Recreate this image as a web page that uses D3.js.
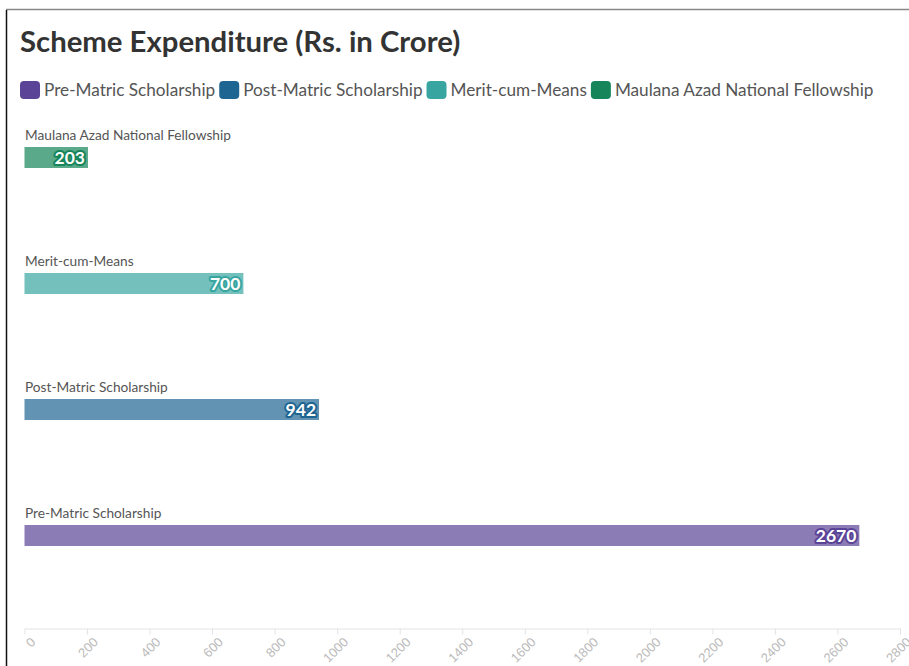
<!DOCTYPE html>
<html>
<head>
<meta charset="utf-8">
<script src="https://cdn.jsdelivr.net/npm/d3@7"></script>
<style>
  body { margin: 0; background: #fff; }
  svg { display: block; font-family: "Source Sans Pro", Lato, "Noto Sans", sans-serif; }
</style>
</head>
<body>
<svg></svg>
<script>
let width = 909
let height = 666

let categories = ['Pre-Matric Scholarship', 'Post-Matric Scholarship', 'Merit-cum-Means', 'Maulana Azad National Fellowship']
let values = [2670, 942, 700, 203]
let colors = ['#5b4497', '#1f6592', '#38a5a1', '#16855a']
let ticks = d3.range(0, 2801, 200)

let data = categories.map((c, i) => ({ name: c, value: values[i], color: colors[i] }))

let svg = d3.select('svg')
    .attr('width', width)
    .attr('height', height)

// frame
svg.append('line')
    .attr('x1', 6).attr('x2', width).attr('y1', 9.5).attr('y2', 9.5)
    .attr('stroke', '#888').attr('stroke-width', 1.5)
svg.append('line')
    .attr('x1', 6.5).attr('x2', 6.5).attr('y1', 10).attr('y2', height)
    .attr('stroke', '#111').attr('stroke-width', 1.5)

svg.append('text')
    .attr('x', 20)
    .attr('y', 52)
    .attr('font-size', 29.3)
    .attr('font-weight', 'bold')
    .attr('fill', '#333')
    .text('Scheme Expenditure (Rs. in Crore)')

// legend
let legend = svg.append('g').attr('transform', 'translate(20, 81)')
let lx = 0
data.forEach(d => {
  let g = legend.append('g').attr('transform', `translate(${lx}, 0)`)
  g.append('rect')
      .attr('width', 20).attr('height', 18).attr('rx', 4)
      .attr('fill', d.color)
  let t = g.append('text')
      .attr('x', 24)
      .attr('y', 15)
      .attr('font-size', 17.2)
      .attr('fill', '#555')
      .text(d.name)
  lx += 24 + t.node().getComputedTextLength() + 4
})

let x = d3.scaleLinear()
    .domain([0, 2800])
    .range([24.5, 900])

let y = d3.scaleBand()
    .domain(categories.slice().reverse())
    .range([121, 625])
    .paddingInner(0)

let chart = svg.append('g')

let rows = chart.selectAll('.row')
  .data(data)
  .enter()
  .append('g')
    .classed('row', true)
    .attr('transform', d => `translate(0, ${y(d.name)})`)

rows.append('text')
    .attr('x', 25)
    .attr('y', 19)
    .attr('font-size', 13.7)
    .attr('fill', '#555')
    .text(d => d.name)

rows.append('rect')
    .attr('x', x(0))
    .attr('y', 26)
    .attr('height', 21)
    .attr('width', d => x(d.value) - x(0))
    .attr('fill', d => d.color)
    .attr('fill-opacity', 0.7)

rows.append('text')
    .attr('x', d => x(d.value) - 3)
    .attr('y', 42.5)
    .attr('text-anchor', 'end')
    .attr('font-size', 17.5)
    .attr('font-weight', 'bold')
    .attr('fill', '#fff')
    .attr('stroke', d => d.color)
    .attr('stroke-width', 4)
    .attr('stroke-linejoin', 'round')
    .attr('paint-order', 'stroke')
    .text(d => d.value)

let axis = svg.append('g')
    .attr('transform', 'translate(0, 628.5)')
    .call(d3.axisBottom(x).tickValues(ticks).tickFormat(d3.format('d')).tickSize(6).tickSizeOuter(0))

axis.select('.domain').attr('stroke', '#e3e3e3')
axis.selectAll('.tick line').attr('stroke', '#e3e3e3')
axis.selectAll('.tick text')
    .attr('fill', '#bbb')
    .attr('font-size', 13)
    .attr('font-family', 'inherit')
    .attr('text-anchor', 'end')
    .attr('dy', 0)
    .attr('transform', 'translate(5, 8) rotate(-45)')
</script>
</body>
</html>
